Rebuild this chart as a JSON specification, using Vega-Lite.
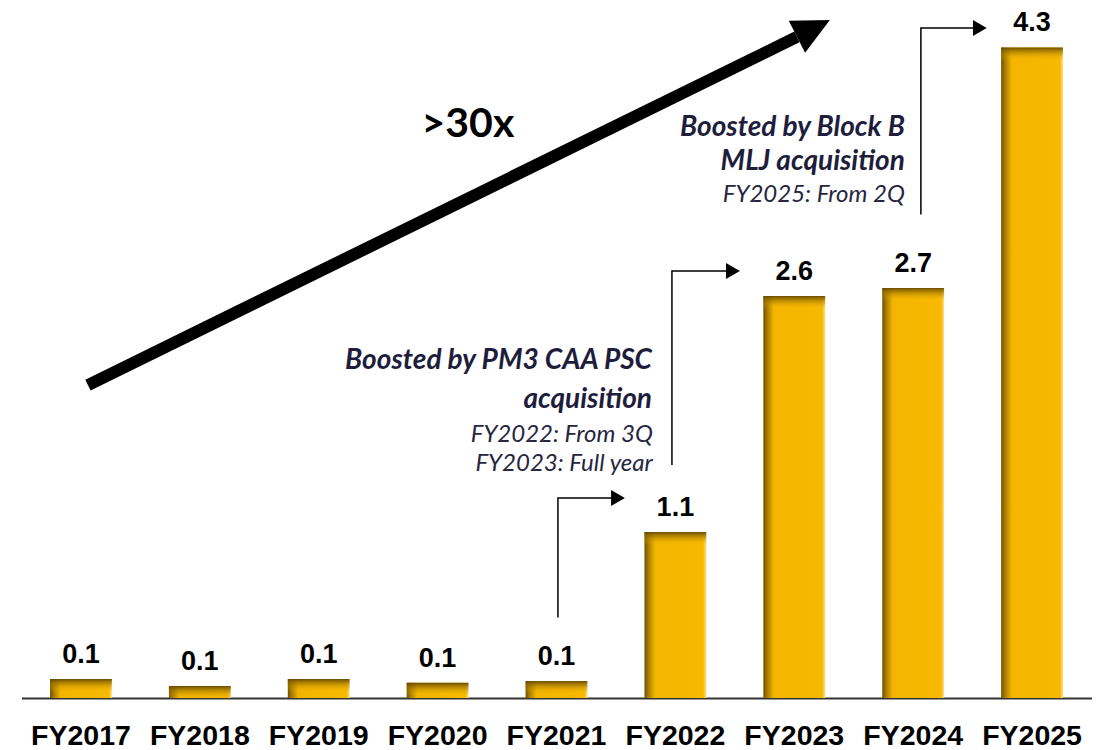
{
  "$schema": "https://vega.github.io/schema/vega-lite/v6.json",
  "width": 1070,
  "height": 698,
  "autosize": "none",
  "padding": {"left": 21.5, "top": 0, "right": 15.5, "bottom": 52},
  "background": "white",
  "config": {"view": {"stroke": null}},
  "datasets": {
    "bars": [
      {"year": "FY2017", "value": 0.125, "label": "0.1"},
      {"year": "FY2018", "value": 0.079, "label": "0.1"},
      {"year": "FY2019", "value": 0.125, "label": "0.1"},
      {"year": "FY2020", "value": 0.1, "label": "0.1"},
      {"year": "FY2021", "value": 0.112, "label": "0.1"},
      {"year": "FY2022", "value": 1.096, "label": "1.1"},
      {"year": "FY2023", "value": 2.655, "label": "2.6"},
      {"year": "FY2024", "value": 2.708, "label": "2.7"},
      {"year": "FY2025", "value": 4.297, "label": "4.3"}
    ],
    "elbows": [
      {"g": "a", "o": 1, "x": 4.512, "y": 0.532},
      {"g": "a", "o": 2, "x": 4.512, "y": 1.321},
      {"g": "a", "o": 3, "x": 4.98, "y": 1.321},
      {"g": "b", "o": 1, "x": 5.471, "y": 1.539},
      {"g": "b", "o": 2, "x": 5.471, "y": 2.82},
      {"g": "b", "o": 3, "x": 5.94, "y": 2.82},
      {"g": "c", "o": 1, "x": 7.565, "y": 3.193},
      {"g": "c", "o": 2, "x": 7.565, "y": 4.425},
      {"g": "c", "o": 3, "x": 8.02, "y": 4.425}
    ],
    "heads": [
      {"x": 5.017, "y": 1.321},
      {"x": 5.984, "y": 2.82},
      {"x": 8.061, "y": 4.425}
    ],
    "bigArrow": [{"x": 0.559, "y": 2.067, "x2": 6.522, "y2": 4.366}],
    "bigHead": [{"x": 6.661, "y": 4.422}],
    "boldNotes": [
      {"text": "Boosted by PM3 CAA PSC", "x": 5.303, "y": 2.173},
      {"text": "acquisition", "x": 5.303, "y": 1.915},
      {"text": "Boosted by Block B", "x": 7.43, "y": 3.712},
      {"text": "MLJ acquisition", "x": 7.43, "y": 3.487}
    ],
    "plainNotes": [
      {"text": "FY2022: From 3Q", "x": 5.31, "y": 1.691},
      {"text": "FY2023: Full year", "x": 5.31, "y": 1.499},
      {"text": "FY2025: From 2Q", "x": 7.43, "y": 3.276}
    ],
    "growth": [{"text": ">30x", "x": 3.755, "y": 3.705}]
  },
  "resolve": {"scale": {"x": "independent"}, "axis": {"x": "independent"}},
  "layer": [
    {
      "data": {"name": "bars"},
      "mark": {
        "type": "bar",
        "fill": {
          "gradient": "linear", "x1": 0, "y1": 0, "x2": 1, "y2": 0,
          "stops": [
            {"offset": 0, "color": "#6E5000"},
            {"offset": 0.06, "color": "#A67B00"},
            {"offset": 0.17, "color": "#F3B500"},
            {"offset": 0.95, "color": "#F8B900"},
            {"offset": 1, "color": "#FFE08A"}
          ]
        }
      },
      "encoding": {
        "x": {
          "field": "year", "type": "nominal", "sort": null,
          "scale": {"paddingInner": 0.48, "paddingOuter": 0.24},
          "axis": {
            "title": null, "labelAngle": 0, "ticks": false, "tickSize": 0,
            "labelFont": "Liberation Sans", "labelFontWeight": "bold",
            "labelFontSize": 28.5, "labelColor": "#000000", "labelPadding": 23,
            "domainColor": "#333333", "domainWidth": 2, "grid": false
          }
        },
        "y": {"field": "value", "type": "quantitative", "scale": {"domain": [0, 4.61]}, "axis": null}
      }
    },
    {
      "data": {"name": "bars"},
      "mark": {
        "type": "bar",
        "y2Offset": 13,
        "fill": {
          "gradient": "linear", "x1": 0, "y1": 0, "x2": 0, "y2": 1,
          "stops": [
            {"offset": 0, "color": "rgba(100,72,0,0.95)"},
            {"offset": 1, "color": "rgba(245,184,0,0)"}
          ]
        }
      },
      "encoding": {
        "x": {"field": "year", "type": "nominal", "sort": null, "scale": {"paddingInner": 0.48, "paddingOuter": 0.24}, "axis": null},
        "y": {"field": "value", "type": "quantitative", "scale": {"domain": [0, 4.61]}, "axis": null},
        "y2": {"field": "value"}
      }
    },
    {
      "data": {"name": "bars"},
      "mark": {"type": "text", "font": "Liberation Sans", "fontWeight": "bold", "fontSize": 27, "color": "#000000", "baseline": "alphabetic", "dy": -16},
      "encoding": {
        "x": {"field": "year", "type": "nominal", "sort": null, "scale": {"paddingInner": 0.48, "paddingOuter": 0.24}, "axis": null},
        "y": {"field": "value", "type": "quantitative", "scale": {"domain": [0, 4.61]}, "axis": null},
        "text": {"field": "label"}
      }
    },
    {
      "data": {"name": "bigArrow"},
      "mark": {"type": "rule", "color": "#000000", "strokeWidth": 12, "strokeCap": "butt"},
      "encoding": {
        "x": {"field": "x", "type": "quantitative", "scale": {"domain": [0, 9]}, "axis": null},
        "y": {"field": "y", "type": "quantitative", "scale": {"domain": [0, 4.61]}, "axis": null},
        "x2": {"field": "x2"},
        "y2": {"field": "y2"}
      }
    },
    {
      "data": {"name": "bigHead"},
      "mark": {"type": "point", "shape": "M1,0L-1,-0.97L-1,0.97Z", "size": 1369, "angle": 333, "filled": true, "fill": "#000000", "opacity": 1, "strokeWidth": 0},
      "encoding": {
        "x": {"field": "x", "type": "quantitative", "scale": {"domain": [0, 9]}, "axis": null},
        "y": {"field": "y", "type": "quantitative", "scale": {"domain": [0, 4.61]}, "axis": null}
      }
    },
    {
      "data": {"name": "elbows"},
      "mark": {"type": "line", "color": "#000000", "strokeWidth": 1.5, "interpolate": "linear"},
      "encoding": {
        "x": {"field": "x", "type": "quantitative", "scale": {"domain": [0, 9]}, "axis": null},
        "y": {"field": "y", "type": "quantitative", "scale": {"domain": [0, 4.61]}, "axis": null},
        "detail": {"field": "g"},
        "order": {"field": "o"}
      }
    },
    {
      "data": {"name": "heads"},
      "mark": {"type": "point", "shape": "triangle-right", "size": 256, "filled": true, "fill": "#000000", "opacity": 1, "strokeWidth": 0},
      "encoding": {
        "x": {"field": "x", "type": "quantitative", "scale": {"domain": [0, 9]}, "axis": null},
        "y": {"field": "y", "type": "quantitative", "scale": {"domain": [0, 4.61]}, "axis": null}
      }
    },
    {
      "data": {"name": "boldNotes"},
      "mark": {"type": "text", "font": "Lato", "fontWeight": "bold", "fontStyle": "italic", "fontSize": 28, "color": "#1E1E3C", "align": "right", "baseline": "alphabetic"},
      "encoding": {
        "x": {"field": "x", "type": "quantitative", "scale": {"domain": [0, 9]}, "axis": null},
        "y": {"field": "y", "type": "quantitative", "scale": {"domain": [0, 4.61]}, "axis": null},
        "text": {"field": "text"}
      }
    },
    {
      "data": {"name": "plainNotes"},
      "mark": {"type": "text", "font": "Lato", "fontStyle": "italic", "fontSize": 24, "color": "#26263F", "align": "right", "baseline": "alphabetic"},
      "encoding": {
        "x": {"field": "x", "type": "quantitative", "scale": {"domain": [0, 9]}, "axis": null},
        "y": {"field": "y", "type": "quantitative", "scale": {"domain": [0, 4.61]}, "axis": null},
        "text": {"field": "text"}
      }
    },
    {
      "data": {"name": "growth"},
      "mark": {"type": "text", "font": "Lato", "fontWeight": "bold", "fontSize": 41, "color": "#000000", "align": "center", "baseline": "alphabetic"},
      "encoding": {
        "x": {"field": "x", "type": "quantitative", "scale": {"domain": [0, 9]}, "axis": null},
        "y": {"field": "y", "type": "quantitative", "scale": {"domain": [0, 4.61]}, "axis": null},
        "text": {"field": "text"}
      }
    }
  ]
}
